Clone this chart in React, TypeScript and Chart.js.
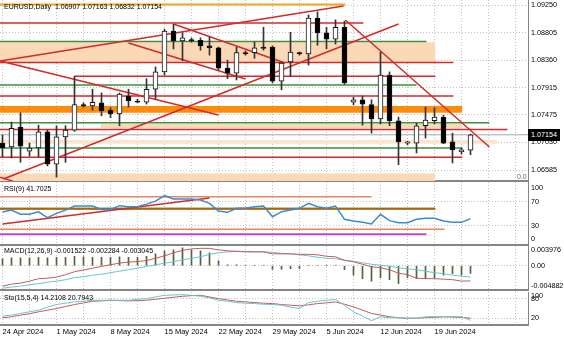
import React, { useEffect, useRef } from 'react';
import { Chart, registerables } from 'chart.js';

Chart.register(...registerables);

// ---------------- data ----------------
const symbol = 'EURUSD';
const timeframe = 'Daily';
const dateLabels = ['24 Apr 2024', '1 May 2024', '8 May 2024', '15 May 2024', '22 May 2024', '29 May 2024', '5 Jun 2024', '12 Jun 2024', '19 Jun 2024'];

const opens = [1.0702, 1.0696, 1.0728, 1.0689, 1.0694, 1.0720, 1.0668, 1.0712, 1.0723, 1.0764,
  1.0762, 1.0767, 1.0755, 1.0749, 1.0778, 1.0770, 1.0768, 1.0789, 1.0817, 1.0883,
  1.0867, 1.0869, 1.0868, 1.0859, 1.0856, 1.0823, 1.0815, 1.0848, 1.0848, 1.0857,
  1.0857, 1.0802, 1.0833, 1.0848, 1.0846, 1.0904, 1.0880, 1.0870, 1.0889, 1.0768,
  1.0772, 1.0764, 1.0741, 1.0812, 1.0738, 1.0702, 1.0702, 1.0730, 1.0738, 1.0744,
  1.0704, 1.0688, 1.06907];
const highs = [1.0715, 1.0736, 1.0751, 1.0702, 1.0731, 1.0723, 1.0730, 1.0730, 1.0810, 1.0767,
  1.0789, 1.0783, 1.0759, 1.0783, 1.0789, 1.0773, 1.0806, 1.0825, 1.0886, 1.0894,
  1.0880, 1.0872, 1.0872, 1.0873, 1.0857, 1.0836, 1.0857, 1.0851, 1.0865, 1.0889,
  1.0859, 1.0833, 1.0881, 1.0849, 1.0909, 1.0914, 1.0889, 1.0901, 1.0899, 1.0776,
  1.0778, 1.0772, 1.0849, 1.0817, 1.0744, 1.0705, 1.0734, 1.0760, 1.0759, 1.0747,
  1.0718, 1.0694, 1.07163];
const lows = [1.0680, 1.0678, 1.0671, 1.0681, 1.0680, 1.0665, 1.0647, 1.0671, 1.0721, 1.0760,
  1.0755, 1.0746, 1.0743, 1.0730, 1.0760, 1.0767, 1.0765, 1.0773, 1.0812, 1.0854,
  1.0835, 1.0865, 1.0852, 1.0844, 1.0820, 1.0806, 1.0804, 1.0844, 1.0839, 1.0852,
  1.0799, 1.0788, 1.0810, 1.0844, 1.0828, 1.0860, 1.0854, 1.0862, 1.0797, 1.0764,
  1.0731, 1.0718, 1.0733, 1.0730, 1.0667, 1.0699, 1.0686, 1.0710, 1.0733, 1.0701,
  1.0670, 1.0684, 1.06832];
const closes = [1.0694, 1.0726, 1.0697, 1.0694, 1.0720, 1.0668, 1.0712, 1.0723, 1.0764, 1.0762,
  1.0768, 1.0754, 1.0749, 1.0781, 1.0770, 1.0768, 1.0789, 1.0817, 1.0883, 1.0867,
  1.0872, 1.0867, 1.0859, 1.0856, 1.0823, 1.0815, 1.0848, 1.0846, 1.0856, 1.0855,
  1.0802, 1.0831, 1.0849, 1.0846, 1.0904, 1.0880, 1.0870, 1.0889, 1.0799, 1.0772,
  1.0765, 1.0741, 1.0812, 1.0738, 1.0704, 1.0704, 1.0730, 1.0739, 1.0744, 1.0702,
  1.0691, 1.0691, 1.07154];

const priceTicks = [1.0925, 1.08805, 1.0836, 1.07915, 1.07475, 1.0703, 1.06585];
const rsiTicks = [100, 70, 30, 0];
const rsiGridLevels = [70, 30];
const macdTicks = [0.003976, 0, -0.004882];
const macdTickLabels = ['0.003976', '0.00', '-0.004882'];
const macdGridLevels = [0];
const stoTicks = [100, 80, 20];
const stoGridLevels = [80, 20];

const rsiValues = [52.8, 56, 49, 49, 53, 43.4, 50.6, 56, 62.8, 62.8,
  62.8, 57, 57, 63.4, 61.7, 61.7, 66, 71, 80, 74.5,
  74.5, 74.5, 72.8, 67.3, 54.5, 52.3, 59, 59, 61.7, 62.8,
  45, 53.4, 56, 59, 67.3, 61.7, 59, 62.8, 40.6, 37.8,
  35.6, 32.8, 49, 38.4, 35, 35, 40.6, 42.3, 42.3, 37.8,
  35.6, 35.6, 41.7025];

const macdMain = [-0.0041, -0.0037, -0.0035, -0.0031, -0.0026, -0.0025, -0.0023, -0.0018, -0.0012, -0.00085,
  -0.0005, -0.00014, 0.0002, 0.00053, 0.00073, 0.00085, 0.00104, 0.0015, 0.002, 0.0026,
  0.0031, 0.0034, 0.0035, 0.0035, 0.0032, 0.003, 0.0029, 0.0028, 0.0028, 0.0028,
  0.0024, 0.0024, 0.0024, 0.0023, 0.0023, 0.0022, 0.0019, 0.0018, 0.0011, 0.0008,
  0.0003, -0.0002, -0.0004, -0.0008, -0.0015, -0.0018, -0.0025, -0.0026, -0.0026, -0.0027,
  -0.0028, -0.0031, -0.003045];
const macdSignal = [-0.0045, -0.0043, -0.0041, -0.0038, -0.0036, -0.0033, -0.0031, -0.0028, -0.0024, -0.0022,
  -0.0019, -0.0017, -0.0014, -0.0011, -0.0008, -0.0005, -0.00014, 0.0002, 0.0005, 0.0008,
  0.0012, 0.0015, 0.0018, 0.0023, 0.0026, 0.0028, 0.0029, 0.0029, 0.0028, 0.0028,
  0.0027, 0.0025, 0.0024, 0.0022, 0.002, 0.0017, 0.0015, 0.0014, 0.0011, 0.0009,
  0.0006, 0.0003, 0.0001, -0.0001, -0.0004, -0.0006, -0.0008, -0.0011, -0.0014, -0.0016,
  -0.0019, -0.0021, -0.002284];
const macdHist = [0.0014, 0.0016, 0.0016, 0.0016, 0.0017, 0.0016, 0.0017, 0.0017, 0.0019, 0.0018,
  0.0017, 0.0017, 0.0017, 0.0018, 0.0017, 0.0017, 0.0019, 0.0024, 0.003, 0.0032,
  0.0036, 0.0032, 0.003, 0.0026, 0.001, 0.0002, 0.0002, 0.0001, 0.0001, 0.0001,
  -0.0007, -0.0007, -0.0006, -0.0006, 0.0001, 0.0001, 0.0001, 0.0001, -0.0008, -0.0019,
  -0.0026, -0.0031, -0.0024, -0.0028, -0.0036, -0.0024, -0.0026, -0.0026, -0.0024, -0.0019,
  -0.0016, -0.0019, -0.001522];

const stoMain = [27, 30, 35, 40, 45, 54, 62, 66, 70, 72,
  75, 75, 75, 75, 75, 78, 80, 85, 90, 91,
  92, 90, 87, 82, 75, 72, 68, 66, 65, 63,
  62, 60, 54, 50, 68, 72, 75, 77, 60, 40,
  27, 13, 25, 22, 22, 21, 20, 25, 25, 25,
  25, 25, 14.2108];
const stoSignal = [22, 25, 30, 34, 40, 45, 50, 56, 62, 67,
  72, 73, 75, 74, 73, 74, 75, 78, 81, 84,
  87, 89, 90, 85, 80, 76, 72, 70, 68, 66,
  65, 62, 60, 58, 61, 65, 67, 70, 63, 55,
  45, 35, 30, 25, 22, 20, 21, 22, 23, 25,
  24, 23, 20.7943];

// horizontal levels: [price, fromBar, toBar]
const redLevels = [[1.0896, -1, 40.1], [1.0832, -1, 50.1], [1.0810, 8, 48.1], [1.0778, -1, 50.1], [1.0724, -1, 56.1], [1.0679, -1, 51.1]];
const greenLevels = [[1.0866, -1, 47.1], [1.0796, -1, 46], [1.0735, -1, 54.1], [1.0694, -1, 51.1]];
const goldLevels = [[1.0926, -1, 38.1]];
// zones: [upper, lower, fromBar, toBar]
const peachZones = [[1.0865, 1.0833, -1, 48.1], [1.0733, 1.0726, 10.9, 51.1], [1.0653, 1.0630, -1, 48.1]];
const paleZones = [[1.0707, 1.0701, -1, 55]];
const orangeZones = [[1.0762, 1.0751, -1, 51.1]];
// trend lines: [bar1, price1, bar2, price2]
const trendLines = [
  [-0.25, 1.08346, 37.9, 1.09234],
  [-0.25, 1.08346, 24, 1.07474],
  [0.1, 1.0644, 44, 1.08943],
  [14, 1.08637, 27, 1.08055],
  [19, 1.08943, 31.4, 1.08314],
  [38.1, 1.09008, 54.1, 1.06957],
  [-0.25, 1.06468, 1.3, 1.06397],
];

const rsiSalmonLevels = [[78.3, -1, 41], [24, -1, 49.1]];
const rsiOrangeLevels = [[57.8, -1, 48.1]];
const rsiGreenLevels = [[59.3, -1, 48.1]];
const rsiPurpleLevels = [[15.7, -1, 47.1]];
const rsiTrendLines = [[0, 32.8, 23, 76.2]];

// ---------------- layout / style ----------------
const W = 564;
const H = 338;
const AXIS_W = 36;
const PLOT_W = W - AXIS_W;
const BAR_PX = 9;
const FIRST_BAR_PX = 2.5;
const X_MIN = -FIRST_BAR_PX / BAR_PX;
const X_MAX = X_MIN + PLOT_W / BAR_PX;
const gridBars: number[] = [];
for (let v = 0; v <= X_MAX; v += 3) gridBars.push(v);

const GRID = '#c2c2c2';
const SEP = '#858585';
const FONT = "'Liberation Sans', Arial, sans-serif";
const AXIS_FONT = 7.2;
Chart.defaults.font.family = FONT;
Chart.defaults.font.size = AXIS_FONT;
Chart.defaults.color = '#000';

// keep edge labels inside their pane, as the terminal does
const inside = (label: string, edge: 'top' | 'bottom' | 'none') =>
  edge === 'top' ? ['', label] : edge === 'bottom' ? [label, ''] : label;

const lineDs = (pts: { x: number; y: number }[], color: string, width: number, order: number) => ({
  type: 'line', data: pts, borderColor: color, borderWidth: width, pointRadius: 0,
  fill: false, tension: 0, order,
});
const levelDs = (lv: number[], color: string, width: number, order: number) =>
  lineDs([{ x: lv[1], y: lv[0] }, { x: lv[2], y: lv[0] }], color, width, order);
const zoneDs = (z: number[], color: string, order: number) => ({
  type: 'line', data: [{ x: z[2], y: z[0] }, { x: z[3], y: z[0] }], borderWidth: 0,
  borderColor: 'rgba(0,0,0,0)', pointRadius: 0, fill: { value: z[1] }, backgroundColor: color, order,
});
const trendDs = (t: number[], color: string, width: number, order: number) =>
  lineDs([{ x: t[0], y: t[1] }, { x: t[2], y: t[3] }], color, width, order);
const seriesPts = (arr: number[]) => arr.map((v, i) => ({ x: i, y: v }));

function makeOptions(p: any) {
  const xH = p.showDates ? H - p.bottom : 0;
  const sortedTicks = [...p.yTicks].sort((a: number, b: number) => a - b);
  return {
    animation: false,
    responsive: false,
    events: [],
    layout: { autoPadding: false, padding: { top: p.top, bottom: p.showDates ? 0 : H - p.bottom, left: 0, right: 0 } },
    plugins: { legend: { display: false }, tooltip: { enabled: false }, title: { display: false } },
    scales: {
      x: {
        type: 'linear', min: X_MIN, max: X_MAX, offset: false, bounds: 'data', position: 'bottom',
        afterBuildTicks: (s: any) => { s.ticks = gridBars.map((v) => ({ value: v })); },
        afterFit: (s: any) => { s.height = xH; s.paddingLeft = 0; s.paddingRight = 0; },
        ticks: {
          display: !!p.showDates, autoSkip: false, maxRotation: 0, minRotation: 0, align: 'start', padding: 2,
          color: '#000', font: { size: 7.5 },
          callback: (v: any) => {
            const k = Math.round(Number(v));
            return k % 6 === 0 && k / 6 < dateLabels.length ? dateLabels[k / 6] : '';
          },
        },
        grid: { offset: false, drawTicks: false, color: GRID, lineWidth: 1 },
        border: { display: true, color: SEP, width: 2, dash: [1, 2] },
      },
      y: {
        type: 'linear', position: 'right', min: p.yMin, max: p.yMax, beginAtZero: false, bounds: 'data',
        afterBuildTicks: (s: any) => { s.ticks = sortedTicks.map((v: number) => ({ value: v })); },
        afterFit: (s: any) => { s.width = AXIS_W; s.paddingTop = 0; s.paddingBottom = 0; },
        ticks: { autoSkip: false, padding: 3, color: '#000', font: { size: AXIS_FONT }, callback: (v: any) => p.fmt(Number(v)) },
        grid: {
          drawTicks: false, lineWidth: 1,
          color: (c: any) => (c.tick && p.gridAt.includes(c.tick.value) ? GRID : 'rgba(0,0,0,0)'),
        },
        border: { display: true, color: SEP, width: 1, dash: [1, 2] },
      },
    },
  };
}

function mainConfig(): any {
  const ds: any[] = [];
  peachZones.forEach((z) => ds.push(zoneDs(z, '#fbd8b6', 40)));
  paleZones.forEach((z) => ds.push(zoneDs(z, '#fde4cf', 40)));
  orangeZones.forEach((z) => ds.push(zoneDs(z, '#fb8c0c', 39)));
  ds.push(levelDs([closes[closes.length - 1], -1, 70], '#a8a8a8', 1, 30));
  greenLevels.forEach((l) => ds.push(levelDs(l, '#3f8f3f', 1.5, 20)));
  redLevels.forEach((l) => ds.push(levelDs(l, '#d42a2a', 1.5, 20)));
  goldLevels.forEach((l) => ds.push(levelDs(l, '#f5a31c', 2, 20)));
  trendLines.forEach((t) => ds.push(trendDs(t, '#d42a2a', 1.5, 10)));
  ds.push({
    type: 'bar', data: highs.map((h, i) => ({ x: i, y: [lows[i], h] })),
    backgroundColor: '#333', borderWidth: 0, barThickness: 1, grouped: false, order: 2,
  });
  ds.push({
    type: 'bar', data: opens.map((o, i) => ({ x: i, y: [Math.min(o, closes[i]), Math.max(o, closes[i])] })),
    backgroundColor: (c: any) => (closes[c.dataIndex] >= opens[c.dataIndex] ? '#ffffff' : '#000000'),
    borderColor: '#111', borderWidth: 1, borderSkipped: false, barThickness: 5, grouped: false, order: 1,
  });
  const pxPerPrice = 1 / 0.0001615;
  const top = 0, bottom = 181;
  const yMax = priceTicks[0] + 5 / pxPerPrice;
  const yMin = yMax - (bottom - top) / pxPerPrice;
  return {
    type: 'line', data: { datasets: ds },
    options: makeOptions({ top, bottom, yMin, yMax, yTicks: priceTicks, gridAt: priceTicks, fmt: (v: number) => v.toFixed(5) }),
  };
}

function rsiConfig(): any {
  const ds: any[] = [];
  rsiSalmonLevels.forEach((l) => ds.push(levelDs(l, '#e58a5e', 1.5, 20)));
  rsiGreenLevels.forEach((l) => ds.push(levelDs(l, '#4d7a2a', 1, 20)));
  rsiOrangeLevels.forEach((l) => ds.push(levelDs(l, '#dc6e1a', 2, 20)));
  rsiPurpleLevels.forEach((l) => ds.push(levelDs(l, '#b64ad6', 2, 20)));
  rsiTrendLines.forEach((t) => ds.push(trendDs(t, '#d42a2a', 1.5, 10)));
  ds.push(lineDs(seriesPts(rsiValues), '#3b8bd0', 1.5, 1));
  const top = 182, bottom = 245;
  const pxPer = 0.6;
  const yMax = 100 + (183.7 - top) / pxPer;
  const yMin = yMax - (bottom - top) / pxPer;
  const hi = Math.max(...rsiTicks), lo = Math.min(...rsiTicks);
  return {
    type: 'line', data: { datasets: ds },
    options: makeOptions({
      top, bottom, yMin, yMax, yTicks: rsiTicks, gridAt: rsiGridLevels,
      fmt: (v: number) => inside(String(Math.round(v)), v === hi ? 'top' : v === lo ? 'bottom' : 'none'),
    }),
  };
}

function macdConfig(): any {
  const ds: any[] = [];
  ds.push({
    type: 'bar', data: macdHist.map((v, i) => ({ x: i, y: [0, v] })),
    backgroundColor: '#56623f', borderWidth: 0, barThickness: 1, grouped: false, order: 5,
  });
  ds.push(lineDs(seriesPts(macdSignal), '#66c6cf', 1, 2));
  ds.push(lineDs(seriesPts(macdMain), '#c45a5a', 1, 1));
  const hi = Math.max(...macdTicks), lo = Math.min(...macdTicks);
  return {
    type: 'line', data: { datasets: ds },
    options: makeOptions({
      top: 246, bottom: 290, yMin: lo, yMax: hi, yTicks: macdTicks, gridAt: macdGridLevels,
      fmt: (v: number) => inside(macdTickLabels[macdTicks.indexOf(v)], v === hi ? 'top' : v === lo ? 'bottom' : 'none'),
    }),
  };
}

function stoConfig(): any {
  const ds: any[] = [];
  ds.push(lineDs(seriesPts(stoSignal), '#c45a5a', 1, 2));
  ds.push(lineDs(seriesPts(stoMain), '#66c6cf', 1, 1));
  return {
    type: 'line', data: { datasets: ds },
    options: makeOptions({
      top: 292, bottom: 325, yMin: 0, yMax: 100, yTicks: stoTicks, gridAt: stoGridLevels, showDates: true,
      fmt: (v: number) => inside(String(Math.round(v)), v === 100 ? 'top' : 'none'),
    }),
  };
}

const labelStyle: React.CSSProperties = {
  position: 'absolute', left: 4, fontFamily: FONT, fontSize: '7px', lineHeight: '8px', color: '#000', whiteSpace: 'pre',
};

export default function App() {
  const mainRef = useRef<HTMLCanvasElement>(null);
  const rsiRef = useRef<HTMLCanvasElement>(null);
  const macdRef = useRef<HTMLCanvasElement>(null);
  const stoRef = useRef<HTMLCanvasElement>(null);

  useEffect(() => {
    document.body.style.margin = '0';
    const charts = [
      new Chart(mainRef.current as HTMLCanvasElement, mainConfig()),
      new Chart(rsiRef.current as HTMLCanvasElement, rsiConfig()),
      new Chart(macdRef.current as HTMLCanvasElement, macdConfig()),
      new Chart(stoRef.current as HTMLCanvasElement, stoConfig()),
    ];
    return () => charts.forEach((c) => c.destroy());
  }, []);

  const n = closes.length - 1;
  const title = `${symbol},${timeframe}  ${opens[n].toFixed(5)} ${highs[n].toFixed(5)} ${lows[n].toFixed(5)} ${closes[n].toFixed(5)}`;
  const rsiTitle = `RSI(9) ${rsiValues[n].toFixed(4)}`;
  const macdTitle = `MACD(12,26,9) ${macdHist[n].toFixed(6)} ${macdSignal[n].toFixed(6)} ${macdMain[n].toFixed(6)}`;
  const stoTitle = `Sto(15,5,4) ${stoMain[n].toFixed(4)} ${stoSignal[n].toFixed(4)}`;
  const canvasStyle: React.CSSProperties = { position: 'absolute', left: 0, top: 0 };

  return (
    <div style={{ position: 'absolute', left: 0, top: 0, width: W, height: H, background: '#fff', overflow: 'hidden' }}>
      <canvas ref={mainRef} width={W} height={H} style={canvasStyle} />
      <canvas ref={rsiRef} width={W} height={H} style={canvasStyle} />
      <canvas ref={macdRef} width={W} height={H} style={canvasStyle} />
      <canvas ref={stoRef} width={W} height={H} style={canvasStyle} />
      <div style={{ ...labelStyle, top: 3 }}>{title}</div>
      <div style={{ ...labelStyle, top: 185 }}>{rsiTitle}</div>
      <div style={{ ...labelStyle, top: 247 }}>{macdTitle}</div>
      <div style={{ ...labelStyle, top: 294 }}>{stoTitle}</div>
      <div style={{ position: 'absolute', left: 517, top: 172, height: 9, overflow: 'hidden', fontFamily: FONT, fontSize: '7px', lineHeight: '9px', color: '#666' }}>0.0</div>
      <div style={{ position: 'absolute', left: 528, top: 129, width: 32, height: 12, background: '#000', color: '#fff', fontFamily: FONT, fontSize: '7.2px', lineHeight: '12px', paddingLeft: 3, boxSizing: 'border-box' }}>
        {closes[n].toFixed(5)}
      </div>
    </div>
  );
}
